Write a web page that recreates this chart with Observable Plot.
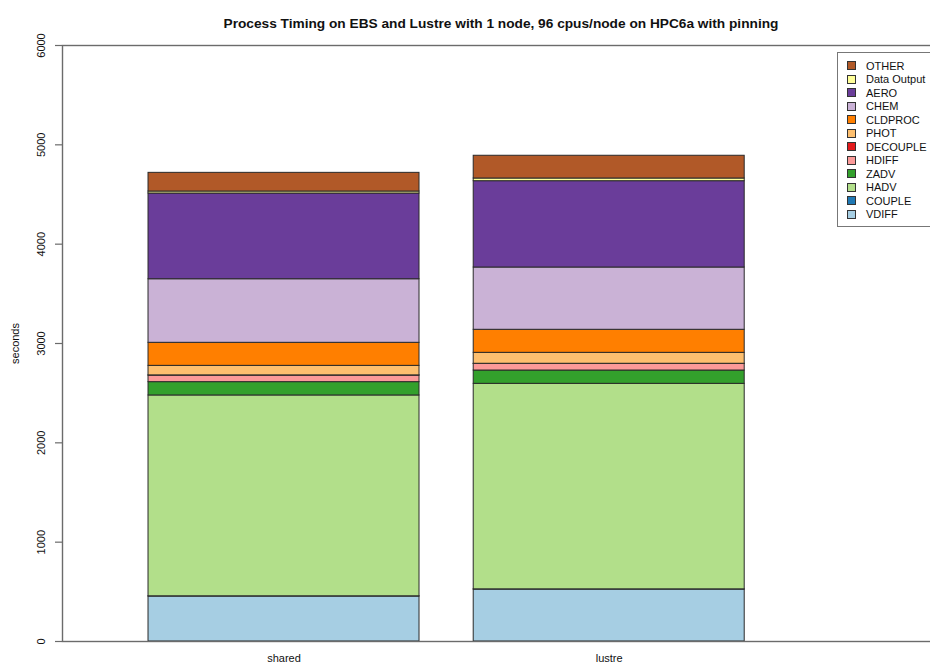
<!DOCTYPE html>
<html>
<head>
<meta charset="utf-8">
<script src="https://cdn.jsdelivr.net/npm/d3@7"></script>
<script src="https://cdn.jsdelivr.net/npm/@observablehq/plot@0.6"></script>
<style>
  html, body { margin: 0; padding: 0; background: #fff; }
  #chart { position: relative; width: 930px; height: 666px; overflow: hidden; font-family: "Liberation Sans", Arial, Helvetica, sans-serif; }
  #legend { position: absolute; left: 837px; top: 52px; width: 110px; height: 175px; border: 1px solid #777; box-sizing: border-box; background: #fff; }
  .lg-row { position: absolute; left: 0; height: 13px; display: flex; align-items: center; font-size: 11px; color: #111; white-space: nowrap; }
  .lg-sw { width: 7px; height: 7px; border: 1px solid #333; margin-left: 9px; margin-right: 10px; }
</style>
</head>
<body>
<div id="chart"></div>
<script>
// Runs and process names, bottom of the stack first
const sites = ["shared", "lustre"];
const processes = ["VDIFF", "COUPLE", "HADV", "ZADV", "HDIFF", "DECOUPLE", "PHOT", "CLDPROC", "CHEM", "AERO", "Data Output", "OTHER"];
const colors = ["#A6CEE3", "#1F78B4", "#B2DF8A", "#33A02C", "#FB9A99", "#E31A1C", "#FDBF6F", "#FF7F00", "#CAB2D6", "#6A3D9A", "#FFFF99", "#B15928"];

// Seconds spent in each process, same order as `processes`
const sharedSeconds = [453, 2, 2022, 134, 66, 2, 96, 232, 640, 863, 20, 188];
const lustreSeconds = [523, 2, 2069, 134, 66, 2, 110, 232, 627, 869, 27, 229];

const yTicks = [0, 1000, 2000, 3000, 4000, 5000, 6000];
const title = "Process Timing on EBS and Lustre with 1 node, 96 cpus/node on HPC6a with pinning";
const yLabel = "seconds";

// barplot layout: bar width 1, space 0.2 before each bar
const space = 0.2, barWidth = 1;
const barLeft = i => space + i * (space + barWidth);
const xDomain = [-0.1174, 3.2];
// plot region used for centring the title (box extends past the right edge)
const xRegion = [-0.1174, 3.1185];

const seriesBySite = [sharedSeconds, lustreSeconds];
const rows = [];
sites.forEach((site, i) => {
  processes.forEach((p, j) => {
    rows.push({site, i, process: p, value: seriesBySite[i][j]});
  });
});

const axisColor = "#6b6b6b";

const plot = Plot.plot({
  width: 930,
  height: 666,
  marginLeft: 62,
  marginRight: -31,
  marginTop: 45,
  marginBottom: 25,
  style: {fontFamily: '"Liberation Sans", Arial, Helvetica, sans-serif', background: "#fff"},
  x: {domain: xDomain, axis: null},
  y: {domain: [0, 6000], axis: null},
  color: {domain: processes, range: colors},
  marks: [
    Plot.rectY(rows, {
      x1: d => barLeft(d.i),
      x2: d => barLeft(d.i) + barWidth,
      y: "value",
      fill: "process",
      stroke: "#2a2a2a",
      strokeWidth: 1
    }),
    Plot.frame({stroke: axisColor, strokeWidth: 1.4}),
    Plot.axisY({ticks: yTicks, tickSize: 7, tickFormat: () => "", label: null, stroke: axisColor, strokeWidth: 1.2}),
    Plot.text(yTicks, {
      y: d => d, text: d => String(d), frameAnchor: "left", dx: -21,
      rotate: -90, textAnchor: "middle", fontSize: 11, fill: "#111"
    }),
    Plot.text([yLabel], {
      frameAnchor: "left", dx: -47, rotate: -90, textAnchor: "middle", fontSize: 11, fill: "#111"
    }),
    Plot.text(sites, {
      x: (d, i) => barLeft(i) + barWidth / 2, text: d => d,
      frameAnchor: "bottom", dy: 20, fontSize: 11, fill: "#111"
    }),
    Plot.text([title], {
      x: () => (xRegion[0] + xRegion[1]) / 2,
      frameAnchor: "top", dy: -27, fontSize: 13.7, fontWeight: "bold", fill: "#111"
    })
  ]
});

const chart = document.getElementById("chart");
chart.appendChild(plot);

// Legend, top of the stack first
const legend = document.createElement("div");
legend.id = "legend";
processes.slice().reverse().forEach((p, k) => {
  const row = document.createElement("div");
  row.className = "lg-row";
  row.style.top = (6 + k * 13.5) + "px";
  const sw = document.createElement("div");
  sw.className = "lg-sw";
  sw.style.background = colors[processes.indexOf(p)];
  const label = document.createElement("span");
  label.textContent = p;
  row.appendChild(sw);
  row.appendChild(label);
  legend.appendChild(row);
});
chart.appendChild(legend);
</script>
</body>
</html>
